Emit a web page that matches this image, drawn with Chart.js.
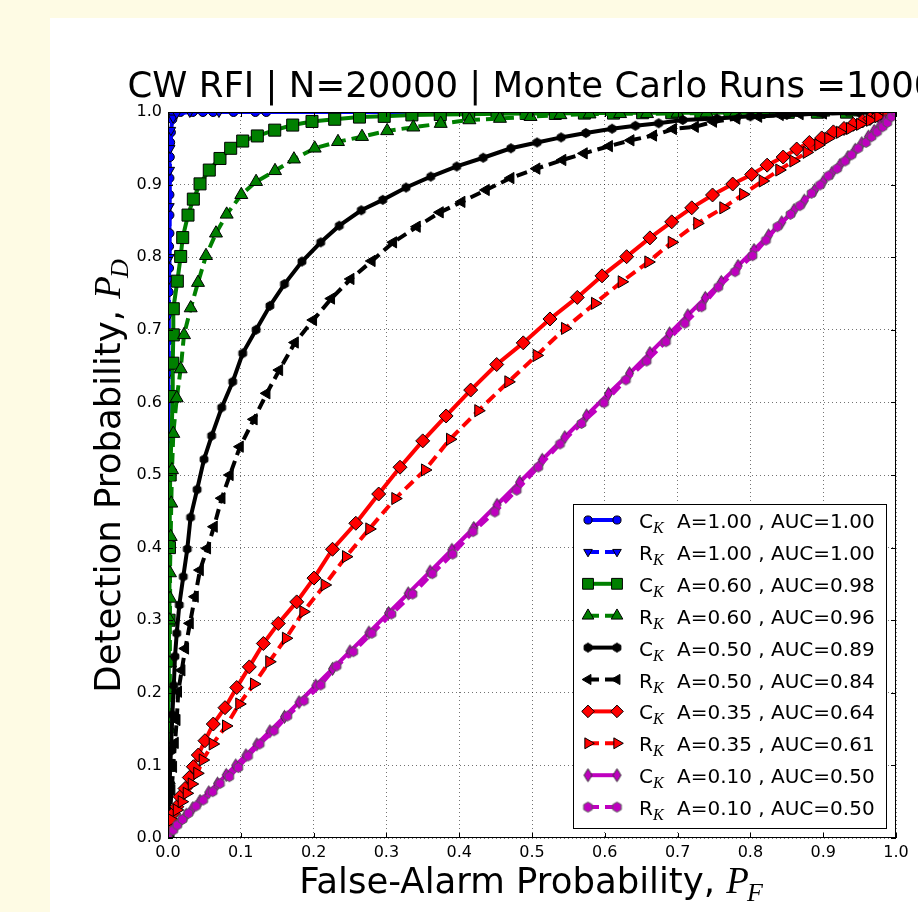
<!DOCTYPE html>
<html>
<head>
<meta charset="utf-8">
<script src="https://cdn.jsdelivr.net/npm/chart.js@4.4.1/dist/chart.umd.min.js"></script>
<style>
  html, body { margin: 0; padding: 0; background: #fefbe4; }
  #roc { display: block; }
</style>
</head>
<body>
<canvas id="roc" width="918" height="912"></canvas>
<script>
// values (PF = false alarm, PD = detection)
const pfBlueC = [0, 0, 0, 0.001, 0.001, 0.0015, 0.0015, 0.002, 0.002, 0.002, 0.002, 0.0025, 0.003, 0.004, 0.006, 0.008, 0.017, 0.034, 0.048, 0.062, 0.09, 0.12, 0.135, 1];
const pdBlueC = [0, 0.3, 0.5, 0.686, 0.752, 0.785, 0.815, 0.833, 0.858, 0.886, 0.909, 0.938, 0.958, 0.972, 0.99, 0.998, 1, 1, 1, 1, 1, 1, 1, 1];

const pfBlueR = [0, 0, 0, 0.0005, 0.001, 0.001, 0.0015, 0.002, 0.002, 0.0025, 0.003, 0.004, 0.007, 0.012, 0.03, 0.07, 1];
const pdBlueR = [0, 0.2, 0.4, 0.55, 0.64, 0.72, 0.77, 0.80, 0.87, 0.92, 0.95, 0.975, 0.992, 0.998, 1, 1, 1];

const pfGreenC = [0, 0.0005, 0.001, 0.0015, 0.002, 0.003, 0.0065, 0.0065, 0.0073, 0.0073, 0.0128, 0.0174, 0.0202, 0.0275, 0.0348, 0.044, 0.0567, 0.0714, 0.0861, 0.1026, 0.1227, 0.1466, 0.1713, 0.1978, 0.229, 0.263, 0.297, 0.335, 0.374, 0.413, 0.452, 0.492, 0.532, 0.572, 0.612, 0.652, 0.692, 0.732, 0.772, 0.812, 0.852, 0.892, 0.932, 0.972, 1];
const pdGreenC = [0, 0.1, 0.2, 0.3, 0.4, 0.5, 0.608, 0.654, 0.693, 0.729, 0.767, 0.801, 0.827, 0.858, 0.880, 0.901, 0.920, 0.936, 0.950, 0.960, 0.967, 0.975, 0.982, 0.987, 0.990, 0.993, 0.994, 0.996, 0.9965, 0.997, 0.9975, 0.998, 0.998, 0.9985, 0.9985, 0.999, 0.999, 0.999, 0.9993, 0.9995, 0.9996, 0.9997, 0.9998, 0.9999, 1];

const pfGreenR = [0, 0.001, 0.002, 0.0027, 0.0025, 0.003, 0.0027, 0.0037, 0.0045, 0.0055, 0.0073, 0.012, 0.0174, 0.022, 0.0312, 0.0412, 0.0522, 0.0659, 0.0806, 0.1007, 0.121, 0.147, 0.173, 0.2015, 0.2335, 0.2665, 0.301, 0.337, 0.3746, 0.414, 0.456, 0.498, 0.539, 0.579, 0.621, 0.658, 0.70, 0.74, 0.78, 0.82, 0.86, 0.90, 0.94, 0.98, 1];
const pdGreenR = [0, 0.08, 0.15, 0.241, 0.30, 0.33, 0.365, 0.415, 0.461, 0.507, 0.557, 0.606, 0.646, 0.693, 0.730, 0.765, 0.802, 0.833, 0.859, 0.886, 0.904, 0.919, 0.935, 0.950, 0.959, 0.966, 0.974, 0.979, 0.984, 0.989, 0.991, 0.9935, 0.996, 0.997, 0.9975, 0.9975, 0.998, 0.9985, 0.999, 0.999, 0.9995, 0.9995, 0.9998, 0.9999, 1];

const pfBlackC = [0, 0.001, 0.002, 0.004, 0.006, 0.008, 0.0096, 0.012, 0.0155, 0.021, 0.0265, 0.031, 0.040, 0.0495, 0.060, 0.0738, 0.0889, 0.1026, 0.121, 0.140, 0.160, 0.184, 0.2098, 0.2353, 0.2655, 0.295, 0.327, 0.361, 0.3966, 0.433, 0.471, 0.507, 0.540, 0.574, 0.610, 0.642, 0.674, 0.707, 0.754, 0.80, 0.85, 0.90, 0.95, 1];
const pdBlackC = [0, 0.03, 0.07, 0.12, 0.17, 0.21, 0.250, 0.282, 0.321, 0.360, 0.398, 0.4417, 0.480, 0.5216, 0.554, 0.593, 0.6285, 0.6676, 0.700, 0.733, 0.763, 0.794, 0.8205, 0.8434, 0.8646, 0.879, 0.896, 0.911, 0.925, 0.937, 0.950, 0.958, 0.965, 0.971, 0.977, 0.981, 0.9845, 0.989, 0.991, 0.994, 0.996, 0.998, 0.999, 1];

const pfBlackR = [0, 0.0027, 0.005, 0.0073, 0.0096, 0.012, 0.0141, 0.0188, 0.0238, 0.0302, 0.0371, 0.044, 0.054, 0.0632, 0.0738, 0.085, 0.0989, 0.118, 0.1356, 0.153, 0.1745, 0.1996, 0.2243, 0.251, 0.280, 0.3095, 0.342, 0.3736, 0.4034, 0.4368, 0.4707, 0.5064, 0.542, 0.5714, 0.606, 0.6356, 0.6666, 0.694, 0.724, 0.749, 0.781, 0.811, 0.8407, 0.868, 0.9, 0.95, 1];
const pdBlackR = [0, 0.034, 0.066, 0.098, 0.131, 0.1625, 0.2015, 0.231, 0.261, 0.2957, 0.3324, 0.369, 0.399, 0.4288, 0.468, 0.500, 0.539, 0.5767, 0.6125, 0.6446, 0.6825, 0.7135, 0.743, 0.770, 0.7948, 0.8205, 0.842, 0.8618, 0.8762, 0.8926, 0.909, 0.922, 0.9339, 0.943, 0.953, 0.961, 0.9676, 0.9766, 0.9796, 0.9866, 0.991, 0.9935, 0.9959, 0.997, 0.998, 0.999, 1];

const pfRedC = [0, 0.0027, 0.0073, 0.012, 0.0165, 0.0234, 0.0293, 0.0348, 0.0416, 0.0508, 0.0622, 0.0783, 0.0944, 0.1117, 0.131, 0.1515, 0.1768, 0.2005, 0.226, 0.258, 0.2894, 0.3187, 0.3499, 0.382, 0.4158, 0.4515, 0.488, 0.5247, 0.5622, 0.5962, 0.630, 0.662, 0.6919, 0.7194, 0.748, 0.7757, 0.8018, 0.823, 0.845, 0.8636, 0.881, 0.898, 0.914, 0.9286, 0.9413, 0.954, 0.9643, 0.9757, 0.987, 0.9963, 1];
const pdRedC = [0, 0.0207, 0.034, 0.043, 0.0569, 0.0682, 0.0833, 0.0982, 0.1143, 0.134, 0.157, 0.1795, 0.2073, 0.2357, 0.2679, 0.2955, 0.3252, 0.358, 0.3977, 0.4335, 0.4738, 0.5107, 0.547, 0.5813, 0.617, 0.6522, 0.682, 0.7149, 0.7446, 0.7743, 0.8007, 0.8266, 0.8487, 0.868, 0.8857, 0.9008, 0.914, 0.9268, 0.938, 0.949, 0.958, 0.9643, 0.9726, 0.9773, 0.983, 0.9876, 0.991, 0.9948, 0.9966, 0.9994, 1];

const pfRedR = [0, 0.0055, 0.012, 0.0188, 0.0257, 0.0326, 0.0402, 0.0477, 0.0614, 0.0797, 0.0979, 0.1181, 0.1391, 0.162, 0.1859, 0.2152, 0.2445, 0.2765, 0.3122, 0.353, 0.3874, 0.4262, 0.4675, 0.5064, 0.5453, 0.5865, 0.6232, 0.6598, 0.6919, 0.727, 0.7628, 0.790, 0.8169, 0.8397, 0.859, 0.8773, 0.8933, 0.907, 0.923, 0.9368, 0.9505, 0.9643, 0.9757, 0.987, 1];
const pdRedR = [0, 0.0248, 0.0386, 0.05, 0.0616, 0.0744, 0.0891, 0.1074, 0.1295, 0.1543, 0.1846, 0.2121, 0.2428, 0.2751, 0.3117, 0.3485, 0.3875, 0.4257, 0.4676, 0.5069, 0.5492, 0.5886, 0.6283, 0.6647, 0.7019, 0.7364, 0.7661, 0.7934, 0.8205, 0.8466, 0.868, 0.8866, 0.905, 0.9201, 0.9325, 0.9444, 0.9545, 0.9637, 0.972, 0.9773, 0.983, 0.9886, 0.9935, 0.9966, 1];

const pfMagC = [0, 0.01, 0.017, 0.025, 0.034, 0.044, 0.056, 0.068, 0.08, 0.093, 0.107, 0.122, 0.14, 0.16, 0.18, 0.203, 0.226, 0.25, 0.276, 0.303, 0.33, 0.36, 0.39, 0.42, 0.452, 0.483, 0.514, 0.545, 0.575, 0.605, 0.634, 0.662, 0.689, 0.714, 0.738, 0.76, 0.783, 0.805, 0.825, 0.843, 0.86, 0.874, 0.888, 0.9, 0.912, 0.923, 0.934, 0.944, 0.953, 0.962, 0.97, 0.978, 0.985, 0.991, 0.996, 1];
const pdMagC = [0, 0.016, 0.024, 0.032, 0.041, 0.051, 0.063, 0.075, 0.087, 0.1, 0.114, 0.129, 0.147, 0.167, 0.187, 0.21, 0.233, 0.257, 0.283, 0.31, 0.337, 0.367, 0.397, 0.427, 0.459, 0.49, 0.521, 0.552, 0.582, 0.612, 0.64, 0.668, 0.695, 0.72, 0.744, 0.766, 0.788, 0.81, 0.83, 0.848, 0.865, 0.878, 0.892, 0.904, 0.916, 0.927, 0.938, 0.948, 0.957, 0.966, 0.974, 0.981, 0.988, 0.993, 0.998, 1];

const pfMagR = [0, 0.0073, 0.0128, 0.02, 0.028, 0.0385, 0.0485, 0.0614, 0.0714, 0.0842, 0.0966, 0.110, 0.126, 0.1456, 0.164, 0.1868, 0.2098, 0.2317, 0.2545, 0.28, 0.307, 0.336, 0.363, 0.391, 0.419, 0.449, 0.479, 0.5087, 0.5385, 0.568, 0.599, 0.629, 0.6575, 0.684, 0.710, 0.733, 0.756, 0.779, 0.803, 0.8214, 0.837, 0.855, 0.868, 0.884, 0.8956, 0.907, 0.919, 0.93, 0.939, 0.948, 0.9588, 0.9666, 0.974, 0.9817, 0.988, 0.994, 1];
const pdMagR = [0, 0.011, 0.0179, 0.0255, 0.034, 0.044, 0.0523, 0.0638, 0.075, 0.0845, 0.0971, 0.113, 0.1295, 0.1477, 0.168, 0.189, 0.2107, 0.2369, 0.2566, 0.282, 0.3085, 0.336, 0.364, 0.391, 0.422, 0.449, 0.479, 0.511, 0.5427, 0.571, 0.5995, 0.631, 0.657, 0.6836, 0.709, 0.7317, 0.759, 0.780, 0.802, 0.8235, 0.842, 0.859, 0.871, 0.888, 0.8994, 0.912, 0.922, 0.9325, 0.941, 0.950, 0.958, 0.966, 0.9727, 0.9796, 0.9855, 0.9935, 1];

const detector = ['C', 'R', 'C', 'R', 'C', 'R', 'C', 'R', 'C', 'R'];
const amplitude = ['1.00', '1.00', '0.60', '0.60', '0.50', '0.50', '0.35', '0.35', '0.10', '0.10'];
const auc = ['1.00', '1.00', '0.98', '0.96', '0.89', '0.84', '0.64', '0.61', '0.50', '0.50'];
const tickLabels = ['0.0', '0.1', '0.2', '0.3', '0.4', '0.5', '0.6', '0.7', '0.8', '0.9', '1.0'];

// =========================
// custom markers (hexagon, thin diamond)
// =========================
function hexMarker(r, fill, edge) {
    const c = document.createElement('canvas');
    const s = Math.ceil(2 * r + 3);
    c.width = s; c.height = s;
    const g = c.getContext('2d');
    g.beginPath();
    for (let k = 0; k < 6; k++) {
        const a = Math.PI / 6 + k * Math.PI / 3;
        g.lineTo(s / 2 + r * Math.cos(a), s / 2 + r * Math.sin(a));
    }
    g.closePath();
    g.fillStyle = fill; g.fill();
    g.lineWidth = 1; g.strokeStyle = edge; g.stroke();
    return c;
}

function thinDiamond(w, h, fill, edge) {
    const c = document.createElement('canvas');
    c.width = Math.ceil(w + 3); c.height = Math.ceil(h + 3);
    const g = c.getContext('2d');
    const cx = c.width / 2, cy = c.height / 2;
    g.beginPath();
    g.moveTo(cx, cy - h / 2); g.lineTo(cx + w / 2, cy);
    g.lineTo(cx, cy + h / 2); g.lineTo(cx - w / 2, cy);
    g.closePath();
    g.fillStyle = fill; g.fill();
    g.lineWidth = 1; g.strokeStyle = edge; g.stroke();
    return c;
}

const MAG = '#bf00bf';
const DASH = [11, 6];
const looks = [
    { color: '#0000ff', dash: [], marker: 'circle', radius: 4.5, rot: 0 },
    { color: '#0000ff', dash: DASH, marker: 'triangle', radius: 5.5, rot: 180 },
    { color: '#008000', dash: [], marker: 'rect', radius: 8.5, rot: 0 },
    { color: '#008000', dash: DASH, marker: 'triangle', radius: 7.5, rot: 0 },
    { color: '#000000', dash: [], marker: hexMarker(4.5, '#000000', '#000000'), radius: 4.5, rot: 0 },
    { color: '#000000', dash: DASH, marker: 'triangle', radius: 6.5, rot: -90 },
    { color: '#ff0000', dash: [], marker: 'rectRot', radius: 7, rot: 0 },
    { color: '#ff0000', dash: DASH, marker: 'triangle', radius: 7, rot: 90 },
    { color: MAG, dash: [], marker: thinDiamond(8, 13, MAG, '#333333'), radius: 6, rot: 0 },
    { color: MAG, dash: DASH, marker: hexMarker(5, MAG, '#555555'), radius: 5, rot: 0 }
];

const seriesX = [pfBlueC, pfBlueR, pfGreenC, pfGreenR, pfBlackC, pfBlackR, pfRedC, pfRedR, pfMagC, pfMagR];
const seriesY = [pdBlueC, pdBlueR, pdGreenC, pdGreenR, pdBlackC, pdBlackR, pdRedC, pdRedR, pdMagC, pdMagR];

const datasets = seriesX.map((xs, i) => ({
    label: detector[i] + 'K A=' + amplitude[i] + ' , AUC=' + auc[i],
    data: xs.map((x, j) => ({ x: x, y: seriesY[i][j] })),
    showLine: true,
    borderColor: looks[i].color,
    borderWidth: 4,
    borderDash: looks[i].dash,
    pointStyle: looks[i].marker,
    pointRotation: looks[i].rot,
    pointRadius: looks[i].radius,
    pointBackgroundColor: looks[i].color,
    pointBorderColor: '#000000',
    pointBorderWidth: 1,
    order: 10 - i,
    clip: 0
}));

// =========================
// page background, frame, text and legend
// =========================
const decor = {
    id: 'decor',
    beforeDraw(chart) {
        const ctx = chart.ctx;
        ctx.save();
        ctx.fillStyle = '#fefbe4';
        ctx.fillRect(0, 0, chart.width, chart.height);
        ctx.fillStyle = '#ffffff';
        ctx.fillRect(50, 18, chart.width - 50, chart.height - 18);
        ctx.restore();
    },
    afterDraw(chart) {
        const ctx = chart.ctx;
        const a = chart.chartArea;
        const xs = chart.scales.x, ys = chart.scales.y;
        ctx.save();

        // frame + inward ticks
        ctx.strokeStyle = '#000000';
        ctx.lineWidth = 1;
        ctx.strokeRect(a.left + 0.5, a.top + 0.5, a.right - a.left - 1, a.bottom - a.top - 1);
        ctx.beginPath();
        xs.ticks.forEach(t => {
            const px = Math.round(xs.getPixelForValue(t.value)) + 0.5;
            ctx.moveTo(px, a.bottom); ctx.lineTo(px, a.bottom - 5);
            ctx.moveTo(px, a.top); ctx.lineTo(px, a.top + 5);
        });
        ys.ticks.forEach(t => {
            const py = Math.round(ys.getPixelForValue(t.value)) + 0.5;
            ctx.moveTo(a.left, py); ctx.lineTo(a.left + 5, py);
            ctx.moveTo(a.right, py); ctx.lineTo(a.right - 5, py);
        });
        ctx.stroke();

        // title
        const cx = (a.left + a.right) / 2;
        ctx.fillStyle = '#000000';
        ctx.textAlign = 'center';
        ctx.textBaseline = 'alphabetic';
        ctx.font = '35.5px "DejaVu Sans"';
        ctx.fillText('CW RFI | N=20000 | Monte Carlo Runs =1000', cx, 97);

        // axis titles with italic P and subscript
        function mathLabel(text, sub, x, y) {
            ctx.font = '35.5px "DejaVu Sans"';
            const w1 = ctx.measureText(text).width;
            ctx.font = 'italic 37px "Liberation Serif"';
            const w2 = ctx.measureText('P').width;
            ctx.font = 'italic 26px "Liberation Serif"';
            const w3 = ctx.measureText(sub).width;
            const start = x - (w1 + w2 + w3) / 2;
            ctx.textAlign = 'left';
            ctx.font = '35.5px "DejaVu Sans"';
            ctx.fillText(text, start, y);
            ctx.font = 'italic 37px "Liberation Serif"';
            ctx.fillText('P', start + w1, y);
            ctx.font = 'italic 26px "Liberation Serif"';
            ctx.fillText(sub, start + w1 + w2 - 2, y + 8);
        }
        mathLabel('False-Alarm Probability, ', 'F', cx, 893);
        ctx.save();
        ctx.translate(120, (a.top + a.bottom) / 2);
        ctx.rotate(-Math.PI / 2);
        mathLabel('Detection Probability, ', 'D', 0, 0);
        ctx.restore();

        // legend
        const bx = 573, by = 504, bw = 313, bh = 324;
        ctx.fillStyle = '#ffffff';
        ctx.fillRect(bx, by, bw, bh);
        ctx.strokeStyle = '#000000';
        ctx.lineWidth = 1;
        ctx.strokeRect(bx + 0.5, by + 0.5, bw, bh);
        datasets.forEach((d, i) => {
            const ry = 520 + i * 31.9;
            const lk = looks[i];
            ctx.save();
            ctx.strokeStyle = lk.color;
            ctx.lineWidth = 4;
            ctx.setLineDash(lk.dash);
            ctx.beginPath();
            ctx.moveTo(588, ry); ctx.lineTo(617, ry);
            ctx.stroke();
            ctx.setLineDash([]);
            ctx.fillStyle = lk.color;
            ctx.strokeStyle = '#000000';
            ctx.lineWidth = 1;
            [588, 617].forEach(mx => {
                Chart.helpers.drawPoint(ctx, {
                    pointStyle: lk.marker, rotation: lk.rot,
                    radius: lk.radius * 0.9, borderWidth: 1
                }, mx, ry);
            });
            ctx.restore();
            ctx.fillStyle = '#000000';
            ctx.textAlign = 'left';
            ctx.font = '20px "DejaVu Sans"';
            ctx.fillText(detector[i], 639, ry + 8);
            const wd = ctx.measureText(detector[i]).width;
            ctx.font = 'italic 16px "Liberation Serif"';
            ctx.fillText('K', 639 + wd, ry + 13);
            ctx.font = '20px "DejaVu Sans"';
            ctx.fillText('A=' + amplitude[i] + ' , AUC=' + auc[i], 677, ry + 8);
        });
        ctx.restore();
    }
};

new Chart(document.getElementById('roc'), {
    type: 'scatter',
    data: { datasets: datasets },
    options: {
        responsive: false,
        animation: false,
        events: [],
        layout: { padding: { left: 118, top: 112, right: 22, bottom: 0 } },
        plugins: { legend: { display: false }, tooltip: { enabled: false }, title: { display: false } },
        scales: {
            x: {
                type: 'linear', min: 0, max: 1,
                afterFit: s => { s.height = 74; },
                ticks: {
                    stepSize: 0.1, padding: 5, color: '#000000',
                    font: { family: 'DejaVu Sans', size: 16 },
                    callback: (v, i) => tickLabels[i]
                },
                grid: { color: 'rgba(0,0,0,0.55)', lineWidth: 1, drawTicks: false, borderDash: [1, 3] },
                border: { display: false, dash: [1, 3] }
            },
            y: {
                type: 'linear', min: 0, max: 1,
                afterFit: s => { s.width = 50; },
                ticks: {
                    stepSize: 0.1, padding: 6, color: '#000000',
                    font: { family: 'DejaVu Sans', size: 16 },
                    callback: (v, i) => tickLabels[i]
                },
                grid: { color: 'rgba(0,0,0,0.55)', lineWidth: 1, drawTicks: false, borderDash: [1, 3] },
                border: { display: false, dash: [1, 3] }
            }
        }
    },
    plugins: [decor]
});
</script>
</body>
</html>
